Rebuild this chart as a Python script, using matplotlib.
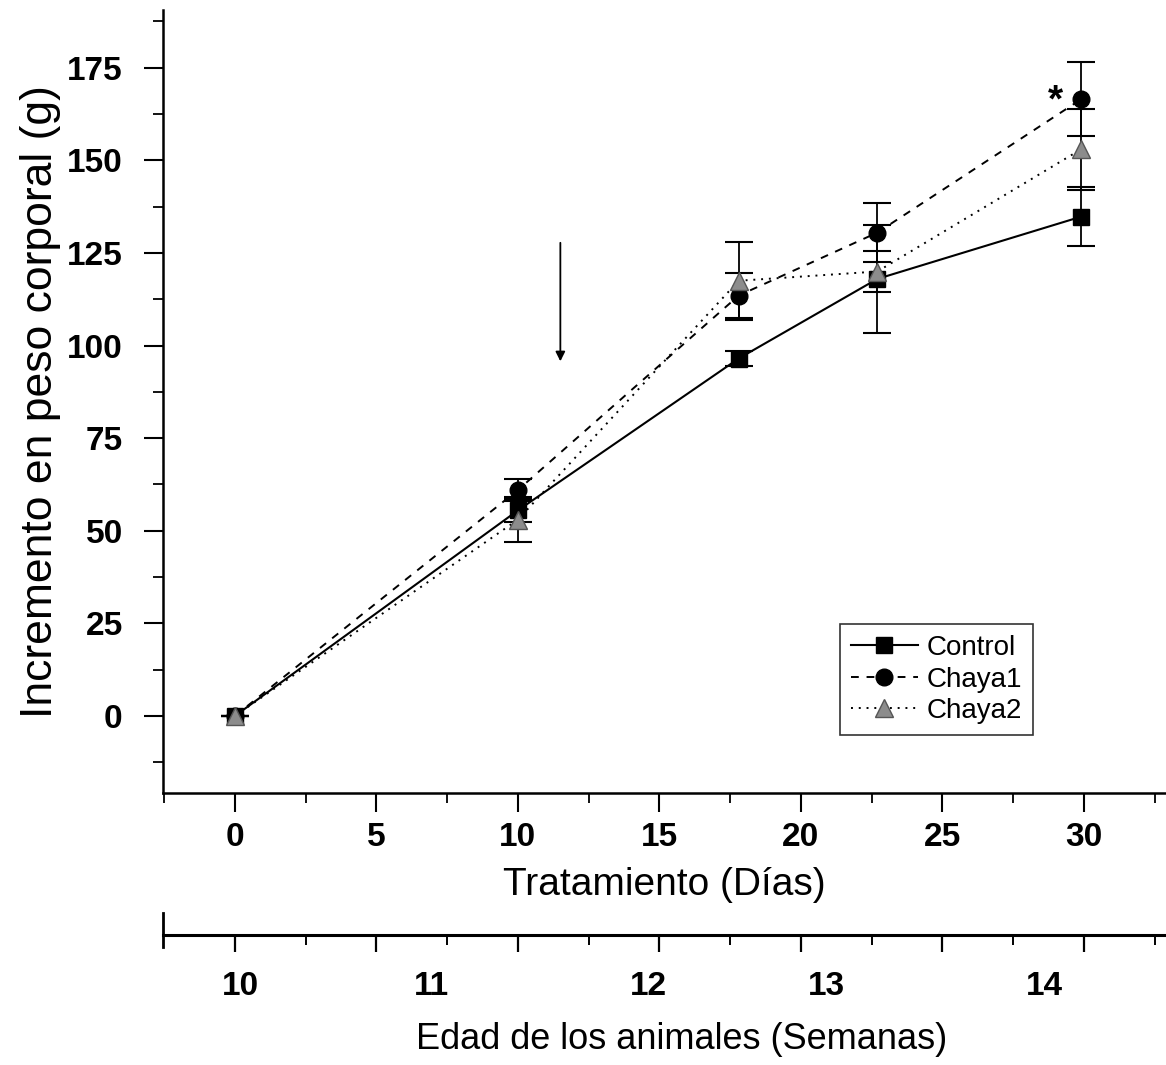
import matplotlib
matplotlib.use('Agg')
import matplotlib.pyplot as plt
import numpy as np

plt.rcParams['font.family'] = ['Liberation Sans', 'DejaVu Sans']

# Datos
dias = [0, 10, 17.8, 22.7, 29.9]

control = [0, 55.5, 96.5, 118, 134.8]
control_err = [0, 3, 2, 14.5, 8]

chaya1 = [0, 61, 113.5, 130.5, 166.5]
chaya1_err = [0, 3, 6, 8, 10]

chaya2 = [0, 53, 117.5, 120, 153]
chaya2_err = [0, 6, 10.5, 5.5, 11]

# Eje secundario: edad en semanas (posición en días donde aparece cada etiqueta)
semanas = ['10', '11', '12', '13', '14']
semanas_pos = [0.2, 6.95, 14.6, 20.9, 28.6]

# Flecha de inicio del tratamiento y asterisco
flecha_x, flecha_y0, flecha_y1 = 11.5, 128.5, 95
asterisco = (29.0, 166.0)

xlim = (-2.54, 32.9)
ylim = (-20.8, 190.6)

fig = plt.figure(figsize=(11.66, 10.65), dpi=100)
ax = fig.add_axes([0.1398, 0.2554, 0.8602, 0.7352])

c1 = ax.errorbar(dias, control, yerr=control_err, color='black', ls='-', lw=1.5,
                 marker='s', ms=11, mfc='black', mec='black', capsize=10,
                 elinewidth=1.3, capthick=1.5, zorder=3)
c2 = ax.errorbar(dias, chaya1, yerr=chaya1_err, color='black', ls=(0, (4, 4)), lw=1.4,
                 marker='o', ms=12, mfc='black', mec='black', capsize=10,
                 elinewidth=1.3, capthick=1.5, zorder=4)
c3 = ax.errorbar(dias, chaya2, yerr=chaya2_err, color='black', ls=(0, (1, 3)), lw=1.4,
                 marker='^', ms=13, mfc='#8c8c8c', mec='#555555', capsize=10,
                 elinewidth=1.3, capthick=1.5, zorder=5)

ax.annotate('', xy=(flecha_x, flecha_y1), xytext=(flecha_x, flecha_y0),
            arrowprops=dict(arrowstyle='-|>', color='black', lw=1.3,
                            mutation_scale=14))
ax.text(asterisco[0], asterisco[1], '*', fontsize=28, fontweight='bold',
        ha='center', va='center')

ax.set_xlim(*xlim)
ax.set_ylim(*ylim)
ax.spines['top'].set_visible(False)
ax.spines['right'].set_visible(False)
for s in ['left', 'bottom']:
    ax.spines[s].set_linewidth(1.8)

ax.set_xticks(np.arange(0, 31, 5))
ax.set_xticks(np.arange(-2.5, 33, 2.5), minor=True)
ax.set_yticks(np.arange(0, 176, 25))
ax.set_yticks(np.arange(-12.5, 190, 12.5), minor=True)
ax.tick_params(which='major', direction='out', length=14, width=1.5, labelsize=24)
ax.tick_params(axis='x', which='major', pad=7)
ax.tick_params(axis='y', which='major', pad=15)
ax.tick_params(which='minor', direction='out', length=7, width=1.3)
for lab in ax.get_xticklabels() + ax.get_yticklabels():
    lab.set_fontweight('bold')

ax.set_xlabel('Tratamiento (Días)', fontsize=28, labelpad=10)
ax.set_ylabel('Incremento en peso corporal (g)', fontsize=32, labelpad=4)

leg = ax.legend([c1[0], c2[0], c3[0]], ['Control', 'Chaya1', 'Chaya2'],
                loc='upper left', bbox_to_anchor=(0.675, 0.2160), fontsize=20,
                frameon=True, fancybox=False, edgecolor='black',
                handlelength=2.4, borderpad=0.4, labelspacing=0.2,
                handletextpad=0.3, borderaxespad=0)
leg.get_frame().set_linewidth(1.2)

# Eje de edad (semanas)
ax2 = fig.add_axes([0.1398, 0.122, 0.8602, 0.02])
ax2.set_xlim(*xlim)
for s in ['top', 'right', 'left']:
    ax2.spines[s].set_visible(False)
ax2.spines['bottom'].set_linewidth(2.2)
ax2.patch.set_alpha(0)
ax2.set_yticks([])
ax2.set_xticks(np.arange(0, 33, 5))
ax2.set_xticks(np.arange(2.5, 33, 5), minor=True)
ax2.tick_params(which='major', direction='out', length=12, width=1.6, labelbottom=False)
ax2.tick_params(which='minor', direction='out', length=7, width=1.4)
ax2.plot([0, 0], [-0.55, 1.05], transform=ax2.transAxes, color='black',
         lw=2, clip_on=False)

sec = ax2.secondary_xaxis('bottom')
sec.set_xticks(semanas_pos)
sec.set_xticklabels(semanas)
sec.tick_params(length=0, labelsize=24, pad=26)
for lab in sec.get_xticklabels():
    lab.set_fontweight('bold')
sec.spines['bottom'].set_visible(False)
sec.set_xlabel('Edad de los animales (Semanas)', fontsize=26)
sec.xaxis.set_label_coords(0.585, 0.040, transform=fig.transFigure)

fig.savefig('out.png', dpi=100)
